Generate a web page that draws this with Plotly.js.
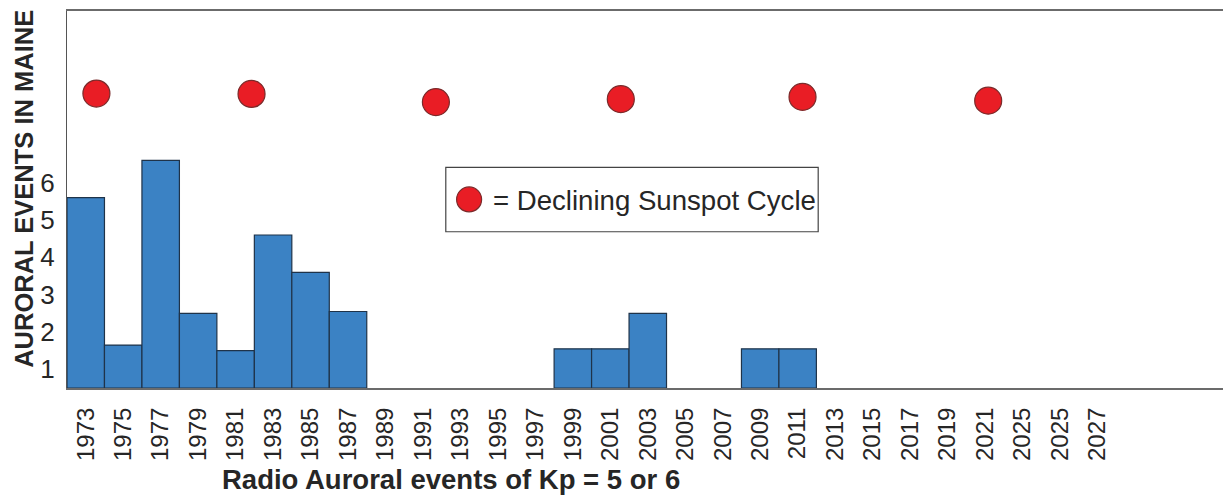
<!DOCTYPE html>
<html>
<head>
<meta charset="utf-8">
<script src="https://cdn.plot.ly/plotly-3.0.1.min.js"></script>
<style>html,body{margin:0;padding:0;background:#fff;}#chart{width:1223px;height:502px;}</style>
</head>
<body>
<div id="chart"></div>
<script>
// ---- data ----
const barYears  = [1973, 1975, 1977, 1979, 1981, 1983, 1985, 1987, 1999, 2001, 2003, 2009, 2011];
const barCounts = [5.1, 1.15, 6.1, 2.0, 1.0, 4.1, 3.1, 2.05, 1.05, 1.05, 2.0, 1.05, 1.05];

const sunspotYears  = [1973.57, 1981.85, 1991.69, 2001.56, 2011.26, 2021.17];
const sunspotLevels = [7.89, 7.88, 7.66, 7.74, 7.80, 7.70];

const xTickYears  = [1973,1975,1977,1979,1981,1983,1985,1987,1989,1991,1993,1995,1997,1999,
                     2001,2003,2005,2007,2009,2011,2013,2015,2017,2019,2021,2023,2025,2027];
const xTickLabels = ["1973","1975","1977","1979","1981","1983","1985","1987","1989","1991","1993","1995","1997","1999",
                     "2001","2003","2005","2007","2009","2011","2013","2015","2017","2019","2021","2025","2025","2027"];
const yTickLabels = ["1","2","3","4","5","6"];

const xTitle = "Radio Auroral events of Kp = 5 or 6";
const yTitle = "AURORAL EVENTS IN MAINE";
const legendText = "= Declining Sunspot Cycle";

// ---- layout helpers ----
const W = 1223, H = 502;
const L = 67.3, T = 10.5, B = 388.3, R = 1223;
const pw = R - L, ph = B - T;
const px = v => (v - L) / pw;     // pixel x -> paper
const py = v => (B - v) / ph;     // pixel y -> paper

const FONT = "Liberation Sans, Arial, sans-serif";
const TXT = "#262626";

const traces = [
  {
    type: "bar",
    x: barYears,
    y: barCounts,
    width: 2,
    marker: { color: "#3b82c4", line: { color: "#1f3349", width: 1.2 } },
    hoverinfo: "x+y",
    showlegend: false
  },
  {
    type: "scatter",
    mode: "markers",
    x: sunspotYears,
    y: sunspotLevels,
    marker: { size: 27, color: "#e91d25", line: { color: "#7a2b2b", width: 1.2 } },
    name: legendText,
    showlegend: false
  }
];

const layout = {
  width: W, height: H,
  margin: { l: L, r: W - R, t: T, b: H - B, pad: 0 },
  paper_bgcolor: "#ffffff",
  plot_bgcolor: "#ffffff",
  font: { family: FONT, color: TXT },
  showlegend: false,
  xaxis: {
    range: [1972, 1972 + pw / 18.73],
    tickmode: "array",
    tickvals: xTickYears,
    ticktext: xTickLabels,
    tickangle: -90,
    ticks: "",
    ticklabelstandoff: 8,
    tickfont: { size: 24, family: FONT, color: TXT },
    showgrid: false, zeroline: false,
    showline: true, mirror: true,
    linecolor: "#6b6b6b", linewidth: 2
  },
  yaxis: {
    range: [0, ph / 37.4],
    tickmode: "array",
    tickvals: yTickLabels.map(t => Number(t) - 0.5),
    ticktext: yTickLabels,
    ticks: "",
    ticklabelstandoff: 6,
    tickfont: { size: 26, family: FONT, color: TXT },
    showgrid: false, zeroline: false,
    showline: true, mirror: false,
    linecolor: "#555555", linewidth: 1.2
  },
  shapes: [
    { type: "rect", xref: "paper", yref: "paper",
      x0: px(446), x1: px(818.3), y0: py(231.7), y1: py(167.3),
      line: { color: "#444444", width: 1.2 }, fillcolor: "rgba(0,0,0,0)" },
    { type: "circle", xref: "paper", yref: "paper",
      x0: px(456.8), x1: px(481.8), y0: py(211.8), y1: py(186.8),
      line: { color: "#7a2b2b", width: 1.2 }, fillcolor: "#e91d25" }
  ],
  annotations: [
    { xref: "paper", yref: "paper", x: px(491.5), y: py(200.5),
      xanchor: "left", yanchor: "middle", showarrow: false,
      text: legendText, font: { size: 27.6, family: FONT, color: TXT } },
    { xref: "paper", yref: "paper", x: px(451), y: py(480),
      xanchor: "center", yanchor: "middle", showarrow: false,
      text: "<b>" + xTitle + "</b>", font: { size: 27.5, family: FONT, color: TXT } },
    { xref: "paper", yref: "paper", x: px(23.5), y: py(188.5),
      xanchor: "center", yanchor: "middle", showarrow: false, textangle: -90,
      text: "<b>" + yTitle + "</b>", font: { size: 25.5, family: FONT, color: TXT } }
  ]
};

Plotly.newPlot("chart", traces, layout, { displayModeBar: false, staticPlot: true });
</script>
</body>
</html>
